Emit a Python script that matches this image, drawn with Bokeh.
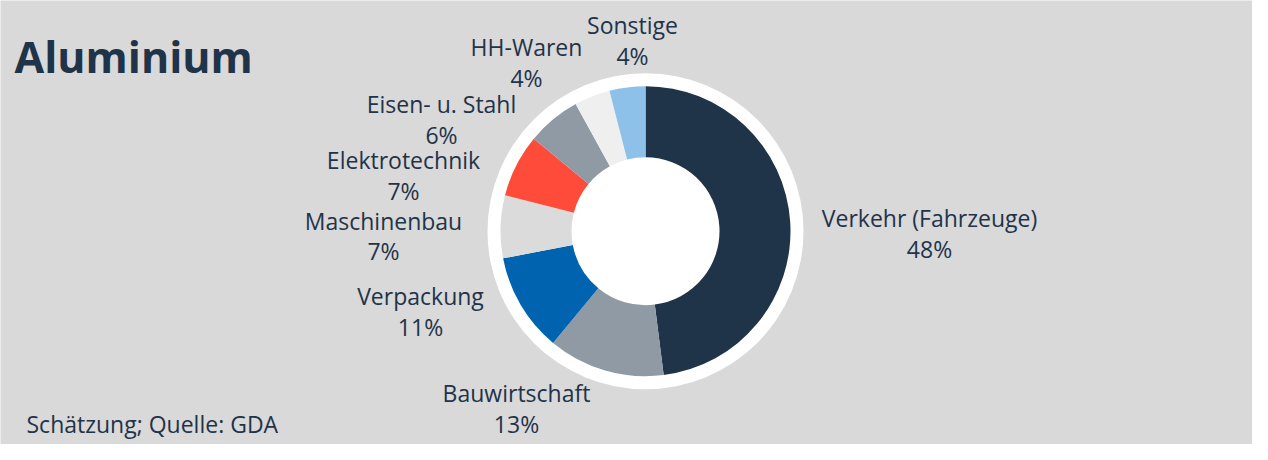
import math
from bokeh.plotting import figure
from bokeh.models import ColumnDataSource, Range1d
from bokeh.core.properties import value
from bokeh.embed import file_html
from bokeh.resources import INLINE

# ---- data ----
categories = ["Verkehr (Fahrzeuge)", "Bauwirtschaft", "Verpackung", "Maschinenbau",
              "Elektrotechnik", "Eisen- u. Stahl", "HH-Waren", "Sonstige"]
shares = [48, 13, 11, 7, 7, 6, 4, 4]
colors = ["#1f3349", "#8f9aa5", "#0063b0", "#dbdbdb",
          "#ff4b3a", "#8f9aa5", "#efefef", "#8dc1ea"]
title_text = "Aluminium"
source_text = "Schätzung; Quelle: GDA"

# ---- layout (reference pixel coordinates) ----
W, H = 1252, 444
SY = H / 460.0
def X(px): return px
def Y(py): return H - py * SY

cx, cy = X(645), Y(239)
r_out, r_in, r_ring = 145, 74, 158
label_pos = [(929, 225), (516, 407), (420, 306), (383, 228),
             (403, 165), (441, 107), (526, 48), (632, 25)]
line_gap = 32 * SY
text_color = "#1f3349"
font = "Open Sans"
fs = "23px"

# wedge angles (clockwise from 12 o'clock)
total = sum(shares)
starts, ends = [], []
acc = 0.0
for v in shares:
    a0 = math.pi / 2 - 2 * math.pi * acc / total
    acc += v
    a1 = math.pi / 2 - 2 * math.pi * acc / total
    starts.append(a0)
    ends.append(a1)

src = ColumnDataSource(dict(
    x=[cx] * len(shares), y=[cy] * len(shares),
    start=starts, end=ends, color=colors,
    name=categories, pct=[f"{v}%" for v in shares],
    lx=[X(p[0]) for p in label_pos],
    ly1=[Y(p[1]) for p in label_pos],
    ly2=[Y(p[1]) - line_gap for p in label_pos],
))

p = figure(width=W, height=H, x_range=Range1d(0, W), y_range=Range1d(0, H),
           x_axis_type=None, y_axis_type=None, toolbar_location=None,
           output_backend="svg", min_border=0)
p.background_fill_color = "#d9d9d9"
p.border_fill_color = "#d9d9d9"
p.outline_line_color = None
p.grid.visible = False

# white ring background
p.circle(x=[cx], y=[cy], radius=r_ring, fill_color="white", line_color=None)

p.annular_wedge(x="x", y="y", inner_radius=r_in, outer_radius=r_out,
                start_angle="start", end_angle="end", direction="clock",
                fill_color="color", line_color=None, source=src)

p.text(x="lx", y="ly1", text="name", source=src, text_align="center",
       text_baseline="middle", text_font=value(font), text_font_size=fs,
       text_color=text_color)
p.text(x="lx", y="ly2", text="pct", source=src, text_align="center",
       text_baseline="middle", text_font=value(font), text_font_size=fs,
       text_color=text_color)

p.text(x=[X(14)], y=[Y(58)], text=[title_text], text_align="left",
       text_baseline="alphabetic", text_font=value(font), text_font_size="43px",
       text_font_style="bold", text_color=text_color)
p.text(x=[X(26)], y=[Y(439)], text=[source_text], text_align="left",
       text_baseline="middle", text_font=value(font), text_font_size=fs,
       text_color=text_color)

open("out.html", "w").write(file_html(p, INLINE))
